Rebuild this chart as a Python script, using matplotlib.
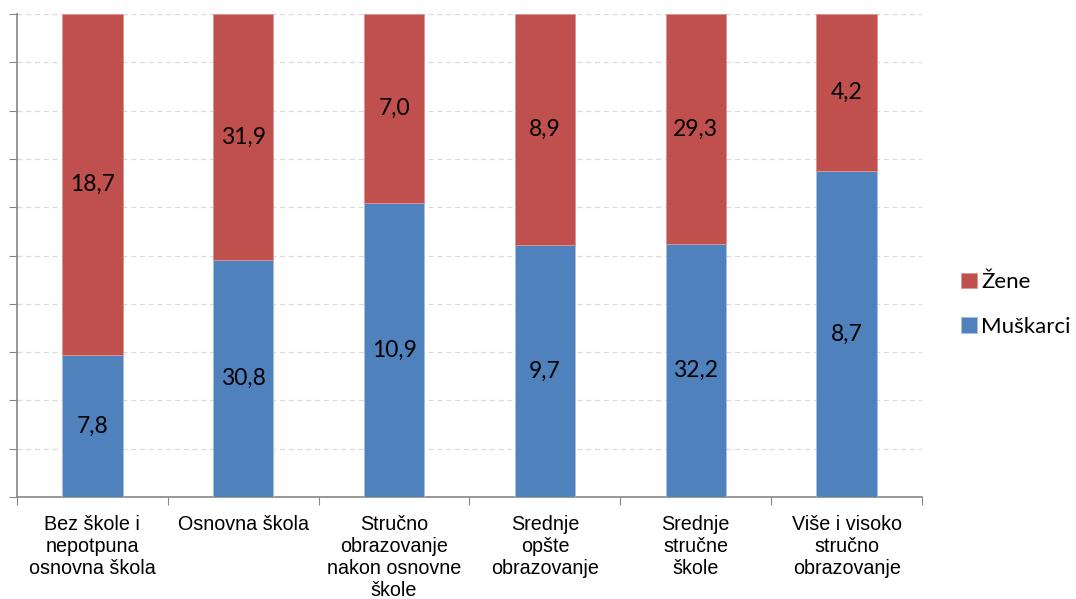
import numpy as np
import matplotlib.pyplot as plt

categories = ['Bez škole i\nnepotpuna\nosnovna škola', 'Osnovna škola',
              'Stručno\nobrazovanje\nnakon osnovne\nškole', 'Srednje\nopšte\nobrazovanje',
              'Srednje\nstručne\nškole', 'Više i visoko\nstručno\nobrazovanje']
muskarci = [7.8, 30.8, 10.9, 9.7, 32.2, 8.7]
zene = [18.7, 31.9, 7.0, 8.9, 29.3, 4.2]

blue = '#4F81BD'
red = '#C0504D'
grey = '#868686'

m = np.array(muskarci)
z = np.array(zene)
total = m + z
m_pct = m / total * 100
z_pct = z / total * 100

fig = plt.figure(figsize=(10.76, 5.99), dpi=100)
ax = fig.add_axes([17 / 1076, 102 / 599, 905 / 1076, 483 / 599])

x = np.arange(len(categories))
b1 = ax.bar(x, m_pct, width=0.4, color=blue, edgecolor='#A7BFDE', linewidth=0.6,
            label='Muškarci', zorder=3)
b2 = ax.bar(x, z_pct, width=0.4, bottom=m_pct, color=red, edgecolor='#D99694',
            linewidth=0.6, label='Žene', zorder=3)

lab_font = dict(family=['Lato', 'DejaVu Sans'], fontsize=16.5, color='black')
for i in range(len(categories)):
    ax.text(x[i], m_pct[i] / 2, f'{muskarci[i]:.1f}'.replace('.', ','),
            ha='center', va='center', **lab_font)
    ax.text(x[i], m_pct[i] + z_pct[i] / 2, f'{zene[i]:.1f}'.replace('.', ','),
            ha='center', va='center', **lab_font)

ax.set_xlim(-0.5, len(categories) - 0.5)
ax.set_ylim(0, 100)
ax.set_yticks(np.arange(0, 101, 10))
ax.set_yticklabels([])
ax.yaxis.grid(True, linestyle=(0, (4, 3)), color='#D9D9D9', linewidth=0.9, zorder=0)

ax.set_xticks(np.arange(-0.5, len(categories), 1.0))
ax.set_xticklabels([])
ax.set_xticks(x, minor=True)
ax.set_xticklabels(categories, minor=True, fontsize=14.2, family='Liberation Sans',
                   linespacing=1.2)
ax.tick_params(axis='x', which='minor', length=0, pad=13)
ax.tick_params(axis='x', which='major', length=6, color=grey, direction='out')
ax.tick_params(axis='y', length=6, color=grey, direction='out')

for s in ['top', 'right']:
    ax.spines[s].set_visible(False)
for s in ['left', 'bottom']:
    ax.spines[s].set_color(grey)
    ax.spines[s].set_linewidth(1.2)

handles = [b2, b1]
ax.legend(handles, ['Žene', 'Muškarci'], loc='center left', bbox_to_anchor=(1.021, 0.399),
          frameon=False, prop={'family': ['Lato', 'DejaVu Sans'], 'size': 16},
          handlelength=0.7, handleheight=0.7, handletextpad=0.2, labelspacing=1.1)

fig.savefig('out.png', dpi=100)
